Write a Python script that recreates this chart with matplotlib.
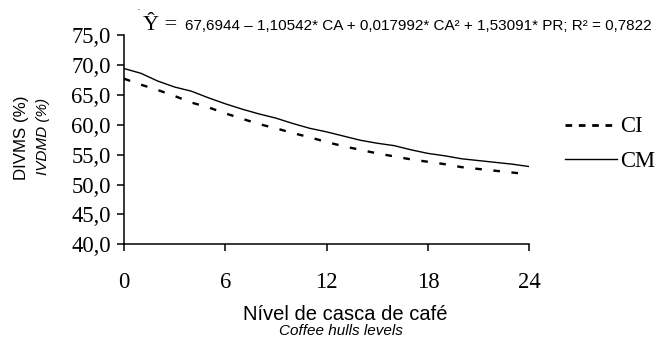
import matplotlib
matplotlib.use('Agg')
import matplotlib.pyplot as plt
from matplotlib.lines import Line2D

# Coffee hull levels (%)
levels = list(range(25))

# In vitro dry matter digestibility (%)
ci_values = [67.7, 66.7, 65.8, 64.8, 63.7, 62.9, 61.9, 61.0, 60.1, 59.4,
             58.6, 57.9, 57.1, 56.4, 55.8, 55.2, 54.7, 54.2, 53.8, 53.4,
             52.9, 52.6, 52.3, 52.0, 51.7]
cm_values = [69.4, 68.6, 67.3, 66.3, 65.6, 64.5, 63.5, 62.6, 61.8, 61.1,
             60.2, 59.4, 58.8, 58.1, 57.4, 56.9, 56.5, 55.8, 55.2, 54.8,
             54.3, 54.0, 53.7, 53.4, 53.0]

x_ticks = [0, 6, 12, 18, 24]
y_ticks = [40, 45, 50, 55, 60, 65, 70, 75]
y_tick_labels = ['40,0', '45,0', '50,0', '55,0', '60,0', '65,0', '70,0', '75,0']

serif = 'Liberation Serif'
sans = 'Liberation Sans'

fig = plt.figure(figsize=(6.58, 3.46), dpi=100)
ax = fig.add_axes([0.1884, 0.2939, 0.616, 0.6049])

ax.plot(levels, ci_values, color='black', lw=1.7, dashes=(2.8, 4.9))
ax.plot(levels, cm_values, color='black', lw=1.0)

ax.set_xlim(0, 24)
ax.set_ylim(40, 75)
ax.set_xticks(x_ticks)
ax.set_xticklabels([str(t) for t in x_ticks])
ax.set_yticks(y_ticks)
ax.set_yticklabels(y_tick_labels)

for side in ['top', 'right']:
    ax.spines[side].set_visible(False)
for side in ['left', 'bottom']:
    ax.spines[side].set_linewidth(1.1)

ax.tick_params(axis='both', direction='out', length=5, width=1.1, labelsize=16.3)
ax.tick_params(axis='x', pad=15)
ax.tick_params(axis='y', pad=4.5)
for lab in ax.get_xticklabels() + ax.get_yticklabels():
    lab.set_fontfamily(serif)

# legend drawn with its own dash look
handles = [Line2D([], [], color='black', lw=2.0, dashes=(2.4, 2.4)),
           Line2D([], [], color='black', lw=1.0)]
fig.legend(handles, ['CI', 'CM'], loc='center left',
           bbox_to_anchor=(565 / 658, 1 - 144 / 346), frameon=False,
           prop={'family': serif, 'size': 16.3}, handlelength=2.3,
           handletextpad=0.15, labelspacing=0.58, borderaxespad=0, borderpad=0)

# axis titles
fig.text(22 / 658, 1 - 137.5 / 346, 'DIVMS (%)', rotation=90, ha='center', va='center',
         family=sans, fontsize=12.2)
fig.text(43 / 658, 1 - 136 / 346, 'IVDMD (%)', rotation=90, ha='center', va='center',
         family=sans, fontsize=11, style='italic')
fig.text(345 / 658, 1 - 315 / 346, 'Nível de casca de café', ha='center', va='center',
         family=sans, fontsize=14.5)
fig.text(341 / 658, 1 - 331 / 346, 'Coffee hulls levels', ha='center', va='center',
         family=sans, fontsize=11, style='italic')

# regression equation
fig.text(143 / 658, 1 - 26 / 346, 'Ŷ =', ha='left', va='center', family=serif, fontsize=16)
fig.text(185 / 658, 1 - 26 / 346,
         '67,6944 – 1,10542* CA + 0,017992* CA² + 1,53091* PR; R² = 0,7822',
         ha='left', va='center', family=sans, fontsize=11.0)
fig.text(139 / 658, 1 - 10 / 346, '·', ha='center', va='center', family=sans, fontsize=8)

fig.savefig('out.png', dpi=100)
